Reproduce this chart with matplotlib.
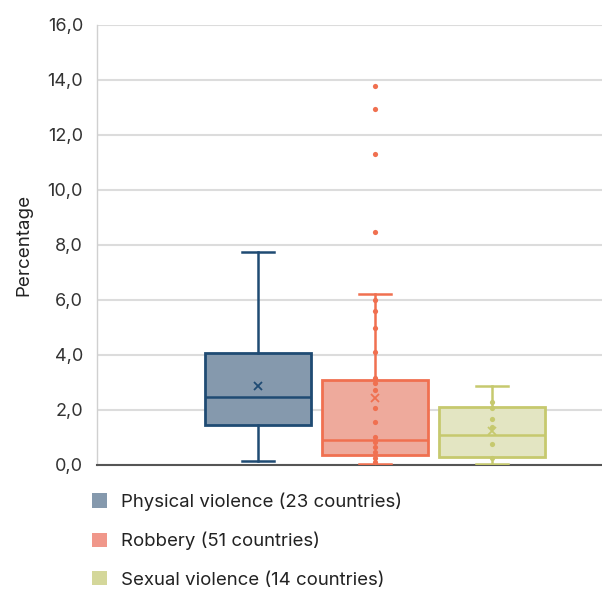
import matplotlib
matplotlib.use("Agg")
import matplotlib.pyplot as plt
from matplotlib.patches import Patch
from matplotlib.ticker import FuncFormatter

plt.rcParams['font.family'] = ['Inter', 'DejaVu Sans']

categories = ["Physical violence (23 countries)", "Robbery (51 countries)", "Sexual violence (14 countries)"]
whislo = [0.13, 0.03, 0.05]
q1 = [1.45, 0.35, 0.30]
med = [2.48, 0.90, 1.10]
q3 = [4.08, 3.10, 2.10]
whishi = [7.75, 6.20, 2.88]
means = [2.87, 2.45, 1.22]
robbery_points = [13.78, 12.95, 11.30, 8.48, 6.00, 5.60, 4.98, 4.12, 3.16, 2.98, 2.72,
                  2.08, 1.57, 1.02, 0.84, 0.67, 0.49, 0.27, 0.10]
sexual_points = [2.29, 2.07, 1.67, 1.38, 0.76, 0.25]
points = [[], robbery_points, sexual_points]

fill_colors = ["#8599ad", "#eeaa9c", "#e3e5c2"]
edge_colors = ["#1f4b73", "#f07050", "#c6c96e"]
legend_colors = ["#8599ad", "#f0978a", "#d4d79a"]

fig = plt.figure(figsize=(6.02, 5.91), dpi=100)
ax = fig.add_axes([0.161, 0.2132, 0.839, 0.7445])

positions = [1, 2, 3]
for i in range(3):
    st = [dict(whislo=whislo[i], q1=q1[i], med=med[i], q3=q3[i], whishi=whishi[i], fliers=[])]
    ec = edge_colors[i]
    ax.bxp(st, positions=[positions[i]], widths=0.905, patch_artist=True, showfliers=False,
           boxprops=dict(facecolor=fill_colors[i], edgecolor=ec, linewidth=2),
           medianprops=dict(color=ec, linewidth=1.8),
           whiskerprops=dict(color=ec, linewidth=1.8),
           capprops=dict(color=ec, linewidth=1.8),
           capwidths=0.27, zorder=3)
    if points[i]:
        ax.scatter([positions[i]] * len(points[i]), points[i], s=14, color=ec, zorder=4, linewidths=0)
    ax.plot([positions[i]], [means[i]], marker='x', markersize=5.5, mew=1.3, color=ec, zorder=5, linestyle='none')

ax.set_xlim(-0.376, 3.94)
ax.set_ylim(0, 16)
ax.set_yticks(range(0, 17, 2))
ax.yaxis.set_major_formatter(FuncFormatter(lambda v, p: f"{v:.1f}".replace('.', ',')))
ax.set_xticks([])
ax.grid(axis='y', color='#dcdcdc', linewidth=1.5, zorder=0)
ax.set_axisbelow(True)
ax.tick_params(axis='y', length=0, pad=10, labelsize=13, labelcolor='#333333')
for s in ['top', 'right']:
    ax.spines[s].set_visible(False)
ax.spines['left'].set_color('#d0d0d0')
ax.spines['left'].set_linewidth(1)
ax.spines['bottom'].set_color('#555555')
ax.spines['bottom'].set_linewidth(1.5)
ax.set_ylabel("Percentage", fontsize=13.5, color='#222222', labelpad=11)

handles = [Patch(facecolor=c, edgecolor='none') for c in legend_colors]
fig.legend(handles, categories, loc='upper left', bbox_to_anchor=(0.125, 0.195),
           frameon=False, fontsize=13.4, labelspacing=1.12, handlelength=0.8, handleheight=0.8,
           handletextpad=0.75, labelcolor='#222222')

fig.savefig("out.png", dpi=100)
